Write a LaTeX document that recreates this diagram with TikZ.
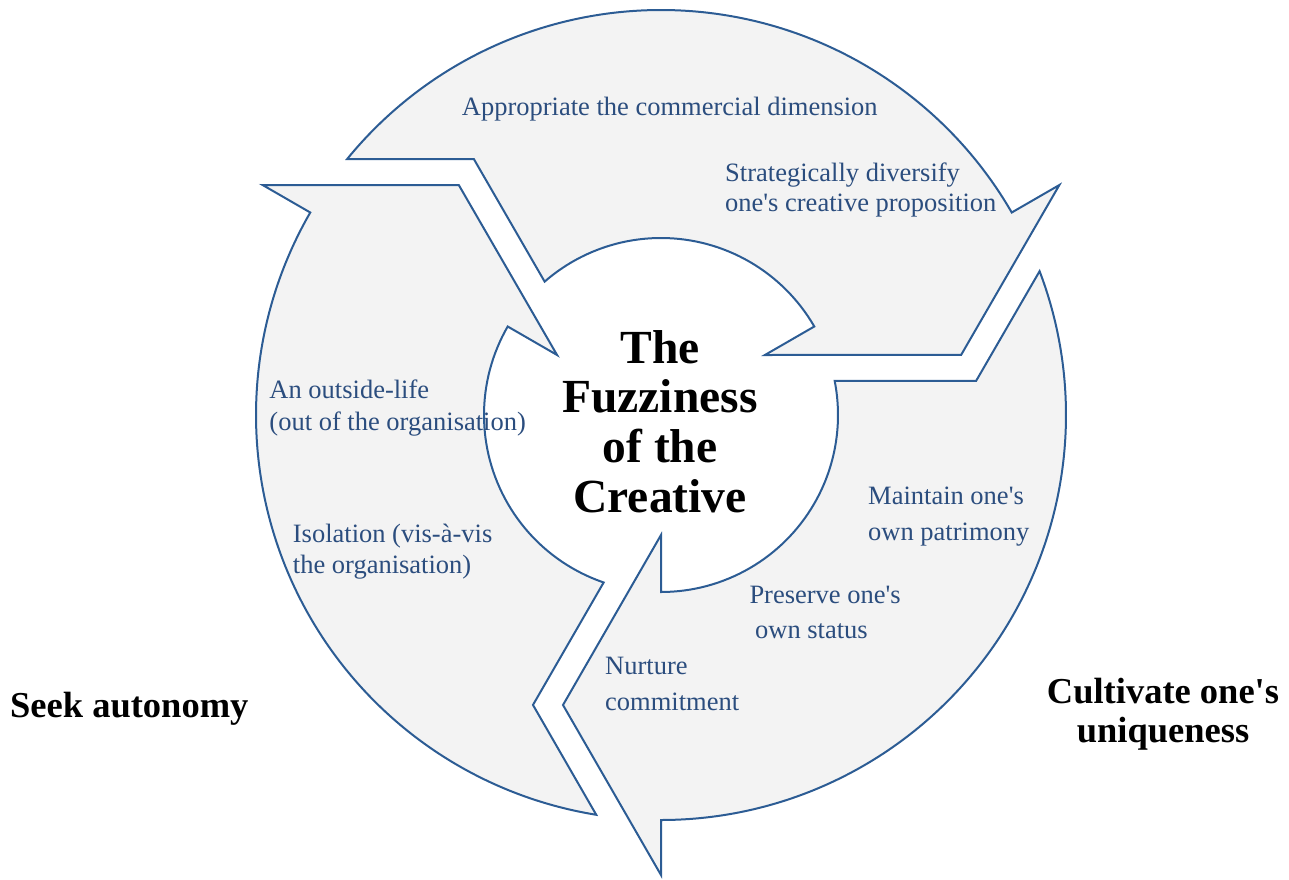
\documentclass[tikz,border=0pt]{standalone}
\usepackage{fontspec}
\setmainfont{Liberation Serif}[Ligatures=TeXOff]
\definecolor{edge}{HTML}{2C5C94}
\definecolor{segfill}{HTML}{F3F3F3}
\definecolor{lbl}{HTML}{2B4D7E}
\begin{document}
\begin{tikzpicture}[x=1pt,y=1pt,
  seg/.style={draw=edge, fill=segfill, line width=2pt, line join=miter},
  item/.style={anchor=base west, inner sep=0pt, text=lbl, font=\fontsize{26.5}{30}\selectfont},
  bigw/.style={anchor=base west, inner sep=0pt, font=\bfseries\fontsize{36.5}{40}\selectfont},
  bigc/.style={anchor=base, inner sep=0pt, font=\bfseries\fontsize{36.5}{40}\selectfont},
  ttl/.style={anchor=base, inner sep=0pt, font=\bfseries\fontsize{47.5}{50}\selectfont}]
\useasboundingbox (-661,-464) rectangle (628,415);
\foreach \r in {0,120,240}{
  \draw[seg, rotate=\r] (20.8:405) arc[start angle=20.8, end angle=-90, radius=405pt]
    -- (0,-460) -- (-98,-290) -- (0,-120) -- (0,-177)
    arc[start angle=-90, end angle=11.1, radius=177pt] -- (315.1,34.1) -- cycle;
}
% centre title
\node[ttl] (t1) at (-1,52) {The};
\node[ttl] (t2) at (-1,3) {Fuzziness};
\node[ttl] (t3) at (-1,-47) {of the};
\node[ttl] (t4) at (-1,-97) {Creative};
% top segment
\node[item] (a1) at (-199.3,300) {Appropriate the commercial dimension};
\node[item] (a2) at (64,233.3) {Strategically diversify};
\node[item] (a3) at (64,204) {one's creative proposition};
% left segment
\node[item] (b1) at (-391.7,17) {An outside-life};
\node[item] (b2) at (-391.7,-15) {(out of the organisation)};
\node[item] (b3) at (-368.3,-127) {Isolation (vis-à-vis};
\node[item] (b4) at (-368.3,-158) {the organisation)};
% right segment
\node[item] (c1) at (207,-89) {Maintain one's};
\node[item] (c2) at (207,-125) {own patrimony};
\node[item] (c3) at (88.3,-188) {Preserve one's};
\node[item] (c4) at (94,-223) {own status};
\node[item] (c5) at (-56,-259.3) {Nurture};
\node[item] (c6) at (-56,-295) {commitment};
% outer labels
\node[bigw] (s1) at (-651,-302) {Seek autonomy};
\node[bigc] (u1) at (502,-288) {Cultivate one's};
\node[bigc] (u2) at (502,-327) {uniqueness};
\end{tikzpicture}
\end{document}
